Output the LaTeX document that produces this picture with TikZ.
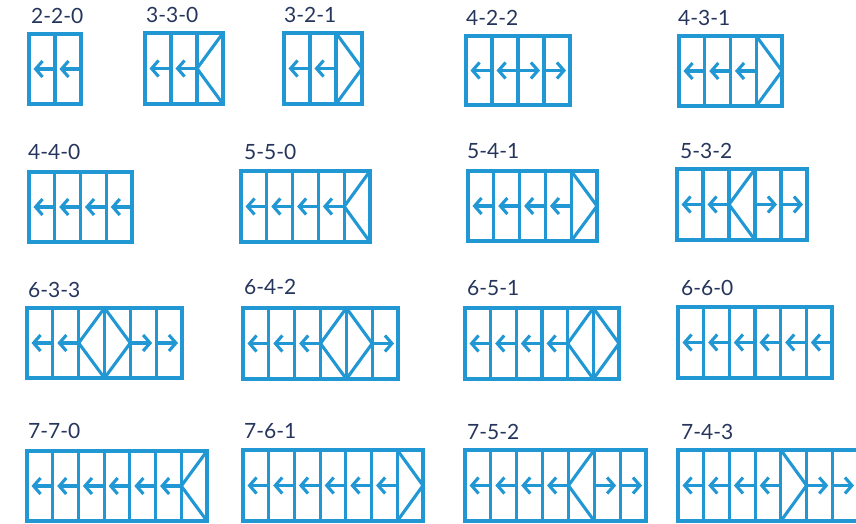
\documentclass[tikz,border=0pt]{standalone}
\usepackage{fontspec}
\setmainfont{Lato}
\usetikzlibrary{arrows.meta}
\usepackage{xcolor}
\definecolor{doorblue}{HTML}{2197D3}
\definecolor{labelnavy}{HTML}{25355C}

% one panel of a door set: left, right, top, bottom
\newcommand{\panelL}[4]{\draw[slide] (#2,{(#3+#4)/2}) -- (#1+4.5,{(#3+#4)/2});}
\newcommand{\panelR}[4]{\draw[slide] (#1,{(#3+#4)/2}) -- (#2-4,{(#3+#4)/2});}
\newcommand{\panelK}[4]{\draw[door] (#2,#3) -- (#1,{(#3+#4)/2}) -- (#2,#4);}
\newcommand{\panelD}[4]{\draw[door] (#1,#3) -- (#2,{(#3+#4)/2}) -- (#1,#4);}

\begin{document}
\begin{tikzpicture}[
  x=1pt, y=-1pt,
  door/.style={draw=doorblue, line width=3.1pt, line join=miter},
  slide/.style={door, -{Straight Barb[length=7pt, width=16pt, line width=3.1pt]}},
  doorlabel/.style={anchor=west, inner sep=0pt, text=labelnavy, font=\fontsize{21}{24}\selectfont}
]
  \useasboundingbox (0,0) rectangle (856,524);
  \clip (0,0) rectangle (856,524);

  % label / label pos / outer box / panel count / panels
  \foreach \lab/\lx/\ly/\xa/\xb/\ya/\yb/\num/\kinds in {
    2-2-0/31/16/29/81/34/104/2/{L,L},
    3-3-0/146/15/145/223/33/104/3/{L,L,K},
    3-2-1/284/15/284/362/33/104/3/{L,L,D},
    4-2-2/466/18/466/570/36/105/4/{L,L,R,R},
    4-3-1/678/18/679/782/36/106/4/{L,L,L,D},
    4-4-0/28/152/29/132/172/242/4/{L,L,L,L},
    5-5-0/244/152/241/370/171/242/5/{L,L,L,L,K},
    5-4-1/467/151/468/597/171/241/5/{L,L,L,L,D},
    5-3-2/680/151/677/807/169/240/5/{L,L,K,R,R},
    6-3-3/28/290/27/182/308/378/6/{L,L,K,D,R,R},
    6-4-2/244/287/243/398/308/379/6/{L,L,L,K,D,R},
    6-5-1/467/288/465/619/308/379/6/{L,L,L,L,K,D},
    6-6-0/681/288/678/832/307/378/6/{L,L,L,L,L,L},
    7-7-0/28/431/27/207/451/521/7/{L,L,L,L,L,L,K},
    7-6-1/244/431/243/423/450/521/7/{L,L,L,L,L,L,D},
    7-5-2/467/432/465/646/450/521/7/{L,L,L,L,K,R,R},
    7-4-3/681/432/678/858/450/521/7/{L,L,L,L,D,R,R}} {
    \node[doorlabel] (\lab) at (\lx,\ly) {\lab};
    \draw[door] (\xa,\ya) rectangle (\xb,\yb);
    \pgfmathsetmacro{\pw}{(\xb-\xa)/\num}
    \foreach \kind [count=\i] in \kinds {
      \pgfmathsetmacro{\pl}{\xa+(\i-1)*\pw}
      \pgfmathsetmacro{\pr}{\xa+\i*\pw}
      \ifnum\i<\num \draw[door] (\pr,\ya) -- (\pr,\yb); \fi
      \csname panel\kind\endcsname{\pl}{\pr}{\ya}{\yb}
    }
  }
\end{tikzpicture}
\end{document}
